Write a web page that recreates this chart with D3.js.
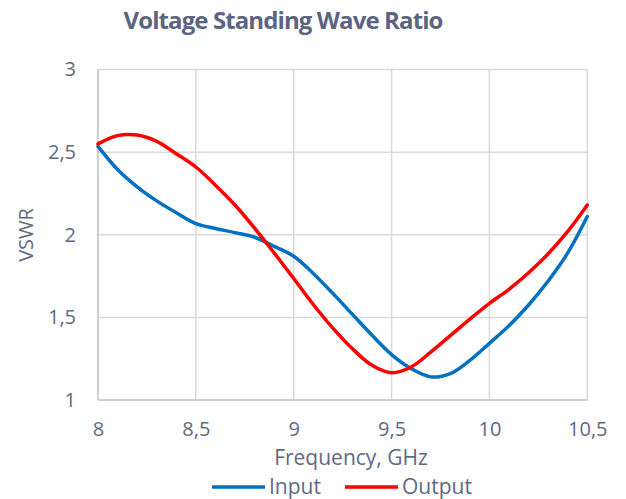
<!DOCTYPE html>
<html><head><meta charset="utf-8">
<script src="https://cdn.jsdelivr.net/npm/d3@7"></script>
<style>body{margin:0;background:#fff}svg{display:block;font-family:"Open Sans",sans-serif}</style>
</head><body><svg id="c" width="626" height="499"></svg>
<script>
const freq = [8.0,8.1,8.2,8.3,8.4,8.5,8.6,8.7,8.8,8.9,9.0,9.1,9.2,9.3,9.4,9.5,9.6,9.7,9.8,9.9,10.0,10.1,10.2,10.3,10.4,10.5];
const inputVSWR = [2.535,2.395,2.29,2.205,2.133,2.067,2.038,2.013,1.985,1.93,1.87,1.766,1.645,1.518,1.392,1.275,1.19,1.14,1.16,1.24,1.343,1.45,1.575,1.72,1.89,2.11];
const outputVSWR = [2.55,2.60,2.603,2.565,2.49,2.41,2.30,2.18,2.04,1.89,1.735,1.578,1.435,1.31,1.21,1.165,1.20,1.29,1.39,1.49,1.585,1.67,1.77,1.885,2.02,2.18];
const xTicks = [8,8.5,9,9.5,10,10.5];
const yTicks = [1,1.5,2,2.5,3];
const seriesNames = ["Input","Output"];
const seriesColors = ["#0070c0","#ff0000"];

const svg = d3.select("#c");
const textColor = "#5f6984";
const x = d3.scaleLinear().domain([8,10.5]).range([98,587.3]);
const y = d3.scaleLinear().domain([1,3]).range([400,69.5]);
const fmt = d => String(d).replace(".", ",");

// grid
svg.append("g").selectAll("line").data(xTicks).join("line")
  .attr("x1",d=>x(d)).attr("x2",d=>x(d)).attr("y1",y(3)).attr("y2",y(1))
  .attr("stroke","#d9d9d9").attr("stroke-width",1.5);
svg.append("g").selectAll("line").data(yTicks).join("line")
  .attr("x1",x(8)).attr("x2",x(10.5)).attr("y1",d=>y(d)).attr("y2",d=>y(d))
  .attr("stroke","#d9d9d9").attr("stroke-width",1.5);
// axis lines
svg.append("line").attr("x1",x(8)).attr("x2",x(8)).attr("y1",y(3)).attr("y2",y(1)).attr("stroke","#c8c8c8").attr("stroke-width",1.5);
svg.append("line").attr("x1",x(8)).attr("x2",x(10.5)).attr("y1",y(1)).attr("y2",y(1)).attr("stroke","#c8c8c8").attr("stroke-width",1.5);

// axes labels via d3 axes
const xAxis = svg.append("g").attr("transform",`translate(0,${y(1)})`)
  .call(d3.axisBottom(x).tickValues(xTicks).tickFormat(fmt).tickSize(0).tickPadding(22));
const yAxis = svg.append("g").attr("transform",`translate(${x(8)},0)`)
  .call(d3.axisLeft(y).tickValues(yTicks).tickFormat(fmt).tickSize(0).tickPadding(22));
[xAxis,yAxis].forEach(a=>{a.select(".domain").remove();
  a.selectAll("text").attr("fill",textColor).style("font-size","20px").style("font-family","'Open Sans',sans-serif");});

// lines
const line = d3.line().x((d,i)=>x(freq[i])).y(d=>y(d)).curve(d3.curveCatmullRom.alpha(0.5));
[inputVSWR,outputVSWR].forEach((s,k)=>{
  svg.append("path").attr("d",line(s)).attr("fill","none").attr("stroke",seriesColors[k])
    .attr("stroke-width",3.5).attr("stroke-linejoin","round").attr("stroke-linecap","round");
});

// title
svg.append("text").attr("x",283).attr("y",29).attr("text-anchor","middle")
  .attr("fill","#5b6480").style("font-size","24px").style("font-weight","bold")
  .style("letter-spacing","-0.9px").text("Voltage Standing Wave Ratio");
// axis titles
svg.append("text").attr("x",351).attr("y",465).attr("text-anchor","middle").attr("fill",textColor)
  .style("font-size","21px").text("Frequency, GHz");
svg.append("text").attr("transform","translate(33,235) rotate(-90)").attr("text-anchor","middle").attr("fill",textColor)
  .style("font-size","20px").text("VSWR");

// legend
const legX = [212,345];
seriesNames.forEach((n,k)=>{
  svg.append("line").attr("x1",legX[k]).attr("x2",legX[k]+53).attr("y1",487).attr("y2",487)
    .attr("stroke",seriesColors[k]).attr("stroke-width",3.5);
  svg.append("text").attr("x",legX[k]+57).attr("y",494).attr("fill",textColor).style("font-size","21px").text(n);
});
</script></body></html>
